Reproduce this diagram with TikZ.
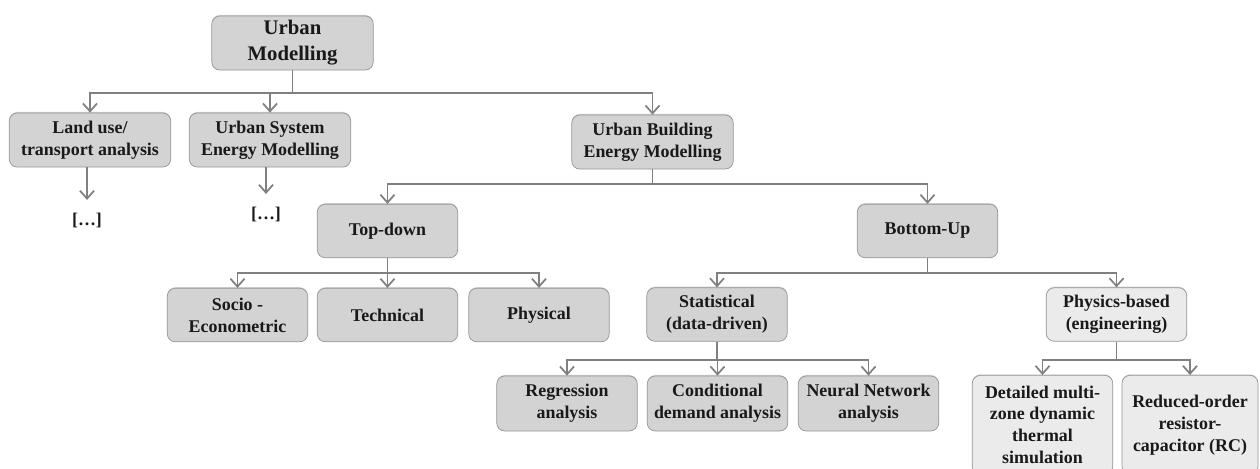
\documentclass[tikz,border=0pt]{standalone}
\usepackage{fontspec}
\setmainfont{Liberation Serif}
\usetikzlibrary{arrows.meta,shadows,positioning}
\definecolor{boxColor}{RGB}{211,211,211}
\definecolor{lightColor}{RGB}{235,235,235}
\definecolor{borderColor}{RGB}{150,150,150}
\definecolor{linkColor}{RGB}{128,128,128}
\definecolor{textColor}{RGB}{25,25,25}
\tikzset{box/.style={draw=borderColor, fill=boxColor, text=textColor, align=center, rounded corners=.16cm, minimum width=2.81cm, minimum height=1.07cm, inner sep=1pt, font=\bfseries\fontsize{10.2}{12.5}\selectfont, drop shadow={shadow xshift=0pt, shadow yshift=.6pt, opacity=.3, fill=black!60}}}
\tikzset{topbox/.style={box, minimum width=3.23cm, minimum height=1.08cm}}
\tikzset{lightbox/.style={box, fill=lightColor}}
\tikzset{link/.style={draw=linkColor, line width=1.1pt, -{Straight Barb[length=4.5pt, width=8pt, line width=1pt]}}}

\begin{document}
\begin{tikzpicture}[x=0.02cm, y=-0.02cm]
	\useasboundingbox (0,0) rectangle (1260,468);
	% Nodes
	\node (um) [topbox, font=\bfseries\fontsize{11.8}{14.8}\selectfont] at (292.5,43) {Urban\\ Modelling};
	
	\node (landuse) [topbox] at (90,140) {Land use/\\ transport analysis};
	\node (usem) [topbox] at (270,140) {Urban System\\ Energy Modelling};
	\node (ubem) [topbox] at (652.5,142) {Urban Building\\ Energy Modelling};
	\node (dotsa) [text=textColor, inner sep=0pt, font=\bfseries\fontsize{10.2}{12.5}\selectfont] at (87,220) {[…]};
	\node (dotsb) [text=textColor, inner sep=0pt, font=\bfseries\fontsize{10.2}{12.5}\selectfont] at (266,214) {[…]};
	
	\node (topdown) [box] at (387.5,231) {Top-down};
	\node (bottomup) [box] at (927.5,231) {Bottom-Up};
	
	\node (socio) [box] at (237.5,315) {Socio -\\ Econometric};
	\node (technical) [box] at (387.5,315) {Technical};
	\node (physical) [box] at (539,315) {Physical};
	
	\node (statistical) [box] at (717,314.5) {Statistical\\ (data-driven)};
	\node (physics) [lightbox] at (1116.5,314.5) {Physics-based\\ (engineering)};
	
	\node (regression) [box, minimum height=1.1cm] at (567,403.5) {Regression\\ analysis};
	\node (conditional) [box, minimum height=1.1cm] at (717.5,403.5) {Conditional\\ demand analysis};
	\node (neural) [box, minimum height=1.1cm] at (868.5,403.5) {Neural Network\\ analysis};
	
	\node (detailed) [lightbox, anchor=north, minimum height=1.98cm] at (1042.5,375) {Detailed multi-\\ zone dynamic\\ thermal\\ simulation};
	\node (reduced) [lightbox, anchor=north, minimum width=2.72cm, minimum height=1.98cm] at (1190,375) {Reduced-order\\ resistor-\\ capacitor (RC)};
	
	% Connectors
	\draw [link] (um.south) -- ++(0,23) -| (landuse.north);
	\draw [link] (um.south) -- ++(0,23) -| (usem.north);
	\draw [link] (um.south) -- ++(0,23) -| (ubem.north);
	\draw [link, shorten >=7pt] (landuse.south -| dotsa.north) -- (dotsa.north);
	\draw [link, shorten >=7pt] (usem.south -| dotsb.north) -- (dotsb.north);
	
	\draw [link] (ubem.south) -- ++(0,15) -| (topdown.north);
	\draw [link] (ubem.south) -- ++(0,15) -| (bottomup.north);
	
	\draw [link] (topdown.south) -- ++(0,15) -| (socio.north);
	\draw [link] (topdown.south) -- ++(0,15) -| (technical.north);
	\draw [link] (topdown.south) -- ++(0,15) -| (physical.north);
	
	\draw [link] (bottomup.south) -- ++(0,15) -| (statistical.north);
	\draw [link] (bottomup.south) -- ++(0,15) -| (physics.north);
	
	\draw [link] (statistical.south) -- ++(0,18) -| (regression.north);
	\draw [link] (statistical.south) -- ++(0,18) -| (conditional.north);
	\draw [link] (statistical.south) -- ++(0,18) -| (neural.north);
	
	\draw [link] (physics.south) -- ++(0,18) -| (detailed.north);
	\draw [link] (physics.south) -- ++(0,18) -| (reduced.north);

\end{tikzpicture}
\end{document}
